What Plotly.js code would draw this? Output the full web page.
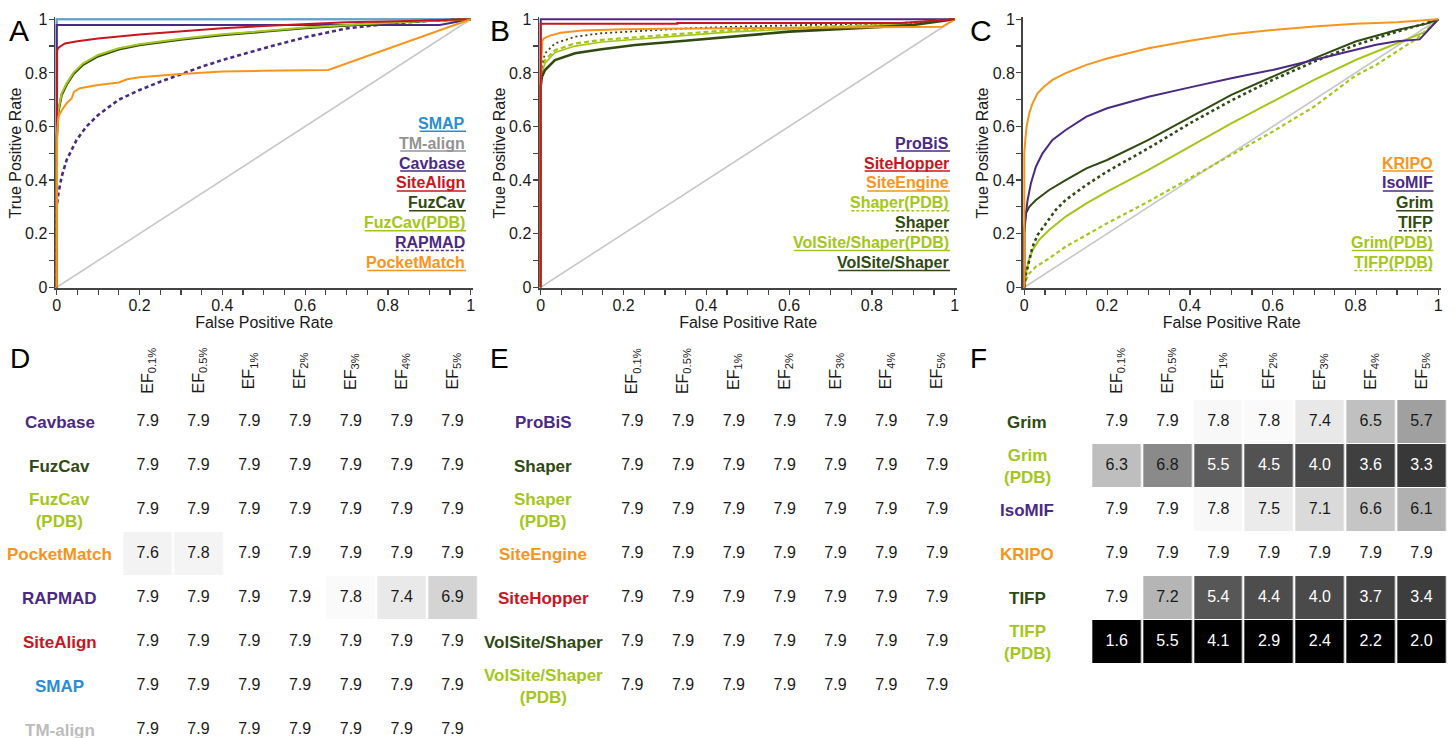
<!DOCTYPE html>
<html><head><meta charset="utf-8">
<script src="https://cdn.plot.ly/plotly-3.0.1.min.js"></script>
<style>html,body{margin:0;padding:0;background:#fff}#chart{width:1456px;height:738px}</style>
</head><body><div id="chart"></div>
<script>
// ---------------- DATA ----------------
// Panel A ROC curves (false positive rate, true positive rate)
const fprTMalign=[0,0,1], tprTMalign=[0,1,1];
const fprSMAP=[0,0,1], tprSMAP=[0,1,1];
const fprCavbase=[0,0,0.925,1], tprCavbase=[0,0.979,0.979,1];
const fprRAPMAD=[0,0,0.004,0.012,0.024,0.048,0.072,0.1,0.15,0.2,0.25,0.3,0.35,0.4,0.5,0.6,0.7,0.8,0.9,1];
const tprRAPMAD=[0,0.30,0.35,0.413,0.475,0.55,0.60,0.643,0.70,0.736,0.767,0.796,0.823,0.848,0.892,0.933,0.966,0.983,0.995,1];
const fprFuzCav=[0,0,0.004,0.012,0.024,0.04,0.064,0.1,0.15,0.2,0.3,0.4,0.5,0.6,0.7,0.8,0.9,1];
const tprFuzCav=[0,0.55,0.655,0.718,0.756,0.795,0.831,0.862,0.888,0.904,0.924,0.941,0.954,0.967,0.977,0.987,0.994,1];
const fprFuzCavPDB=[0,0,0.004,0.012,0.024,0.04,0.064,0.1,0.15,0.2,0.3,0.4,0.5,0.6,0.7,0.8,0.9,1];
const tprFuzCavPDB=[0,0.55,0.66,0.724,0.761,0.80,0.836,0.867,0.892,0.907,0.927,0.944,0.956,0.969,0.979,0.988,0.995,1];
const fprSiteAlign=[0,0,0.001,0.005,0.02,0.05,0.1,0.2,0.3,0.4,0.5,0.6,0.7,0.8,0.9,1];
const tprSiteAlign=[0,0.65,0.885,0.895,0.91,0.918,0.928,0.943,0.955,0.967,0.975,0.983,0.989,0.992,0.996,1];
const fprPocketMatch=[0,0,0.001,0.004,0.012,0.024,0.036,0.042,0.056,0.1,0.15,0.17,0.2,0.3,0.4,0.5,0.656,1];
const tprPocketMatch=[0,0.5,0.575,0.637,0.66,0.687,0.705,0.73,0.743,0.755,0.764,0.776,0.784,0.796,0.805,0.808,0.811,1];

// Panel B
const fprProBiS=[0,0,1], tprProBiS=[0,1,1];
const fprSiteHopper=[0,0,0.33,0.33,0.87,1], tprSiteHopper=[0,0.983,0.983,0.986,0.986,1];
const fprSiteEngine=[0,0,0.004,0.008,0.024,0.048,0.1,0.2,0.3,0.6,0.8,0.97,1];
const tprSiteEngine=[0,0.8,0.92,0.929,0.94,0.95,0.958,0.963,0.965,0.968,0.97,0.972,1];
const fprShaper=[0,0,0.003,0.0104,0.0345,0.083,0.147,0.228,0.349,0.46,0.6,0.8,0.9,1];
const tprShaper=[0,0.78,0.83,0.873,0.910,0.935,0.948,0.956,0.966,0.972,0.977,0.983,0.988,1];
const fprShaperPDB=[0,0,0.003,0.0104,0.0345,0.083,0.147,0.228,0.349,0.46,0.6,0.8,0.9,1];
const tprShaperPDB=[0,0.78,0.81,0.848,0.885,0.910,0.923,0.933,0.948,0.960,0.968,0.978,0.985,1];
const fprVolSiteShaperPDB=[0,0,0.003,0.0104,0.0345,0.083,0.147,0.228,0.349,0.46,0.6,0.8,0.9,1];
const tprVolSiteShaperPDB=[0,0.78,0.80,0.836,0.876,0.900,0.915,0.925,0.940,0.953,0.963,0.976,0.984,1];
const fprVolSiteShaper=[0,0,0.003,0.0104,0.0345,0.083,0.147,0.228,0.349,0.46,0.6,0.8,0.9,1];
const tprVolSiteShaper=[0,0.75,0.786,0.811,0.848,0.873,0.888,0.904,0.920,0.935,0.954,0.970,0.979,1];

// Panel C
const fprKRIPO=[0,0,0.0024,0.0056,0.012,0.02,0.032,0.048,0.068,0.1,0.15,0.2,0.3,0.4,0.5,0.6,0.7,0.8,0.9,1];
const tprKRIPO=[0,0.5,0.55,0.6,0.649,0.687,0.724,0.749,0.774,0.799,0.83,0.854,0.892,0.92,0.944,0.96,0.973,0.983,0.989,1];
const fprIsoMIF=[0,0,0.004,0.008,0.016,0.028,0.044,0.068,0.1,0.15,0.2,0.3,0.4,0.5,0.6,0.7,0.8,0.85,0.9,0.955,1];
const tprIsoMIF=[0,0.22,0.276,0.326,0.388,0.45,0.5,0.55,0.587,0.637,0.668,0.711,0.746,0.78,0.811,0.848,0.884,0.905,0.918,0.925,1];
const fprGrim=[0,0,0.004,0.012,0.028,0.06,0.1,0.15,0.2,0.3,0.4,0.5,0.6,0.7,0.8,0.9,0.97,1];
const tprGrim=[0,0.2,0.276,0.30,0.326,0.363,0.40,0.444,0.475,0.55,0.634,0.718,0.786,0.854,0.917,0.96,0.983,1];
const fprTIFP=[0,0.004,0.012,0.02,0.032,0.052,0.076,0.1,0.15,0.2,0.3,0.4,0.5,0.6,0.7,0.8,0.9,0.97,1];
const tprTIFP=[0,0.05,0.10,0.152,0.195,0.239,0.289,0.326,0.382,0.432,0.519,0.612,0.697,0.774,0.842,0.904,0.954,0.985,1];
const fprGrimPDB=[0,0.004,0.012,0.02,0.036,0.06,0.1,0.15,0.2,0.3,0.4,0.5,0.6,0.7,0.8,0.9,0.97,1];
const tprGrimPDB=[0,0.052,0.108,0.139,0.177,0.214,0.264,0.313,0.357,0.438,0.525,0.612,0.693,0.774,0.848,0.91,0.954,1];
const fprTIFPPDB=[0,0.004,0.012,0.028,0.06,0.1,0.15,0.2,0.3,0.4,0.5,0.6,0.7,0.8,0.85,0.9,0.95,1];
const tprTIFPPDB=[0,0.027,0.052,0.077,0.108,0.152,0.195,0.239,0.32,0.407,0.494,0.581,0.674,0.79,0.83,0.88,0.93,1];

const fprRandom=[0,1], tprRandom=[0,1];

// Enrichment-factor tables
const efLevels=['0.1%','0.5%','1%','2%','3%','4%','5%'];
const rowsD=['Cavbase','FuzCav','FuzCav\n(PDB)','PocketMatch','RAPMAD','SiteAlign','SMAP','TM-align'];
const valsD=[
 [7.9,7.9,7.9,7.9,7.9,7.9,7.9],
 [7.9,7.9,7.9,7.9,7.9,7.9,7.9],
 [7.9,7.9,7.9,7.9,7.9,7.9,7.9],
 [7.6,7.8,7.9,7.9,7.9,7.9,7.9],
 [7.9,7.9,7.9,7.9,7.8,7.4,6.9],
 [7.9,7.9,7.9,7.9,7.9,7.9,7.9],
 [7.9,7.9,7.9,7.9,7.9,7.9,7.9],
 [7.9,7.9,7.9,7.9,7.9,7.9,7.9]];
const rowsE=['ProBiS','Shaper','Shaper\n(PDB)','SiteEngine','SiteHopper','VolSite/Shaper','VolSite/Shaper\n(PDB)'];
const valsE=[
 [7.9,7.9,7.9,7.9,7.9,7.9,7.9],
 [7.9,7.9,7.9,7.9,7.9,7.9,7.9],
 [7.9,7.9,7.9,7.9,7.9,7.9,7.9],
 [7.9,7.9,7.9,7.9,7.9,7.9,7.9],
 [7.9,7.9,7.9,7.9,7.9,7.9,7.9],
 [7.9,7.9,7.9,7.9,7.9,7.9,7.9],
 [7.9,7.9,7.9,7.9,7.9,7.9,7.9]];
const rowsF=['Grim','Grim\n(PDB)','IsoMIF','KRIPO','TIFP','TIFP\n(PDB)'];
const valsF=[
 [7.9,7.9,7.8,7.8,7.4,6.5,5.7],
 [6.3,6.8,5.5,4.5,4.0,3.6,3.3],
 [7.9,7.9,7.8,7.5,7.1,6.6,6.1],
 [7.9,7.9,7.9,7.9,7.9,7.9,7.9],
 [7.9,7.2,5.4,4.4,4.0,3.7,3.4],
 [1.6,5.5,4.1,2.9,2.4,2.2,2.0]];

// ---------------- STYLE ----------------
const W=1456,H=738;
const FONT='"Liberation Sans", Arial, Helvetica, sans-serif';
const PURPLE='#4b2a84', DKGREEN='#2f4a12', LTGREEN='#a4c61a', ORANGE='#f7941d', RED='#c8161e', BLUE='#2a8dd4', GRAYL='#939393', DIAG='#c8c8c8';
const AXC='#444';

const panels=[
 {ax:'', legendRight:466, series:[
   {name:'TM-align', x:fprTMalign, y:tprTMalign, color:'#a8a8a8', lc:GRAYL, w:2, dash:'solid'},
   {name:'SMAP', x:fprSMAP, y:tprSMAP, color:'#5aa2d8', lc:BLUE, w:2, dash:'solid'},
   {name:'Cavbase', x:fprCavbase, y:tprCavbase, color:PURPLE, lc:PURPLE, w:2, dash:'solid'},
   {name:'RAPMAD', x:fprRAPMAD, y:tprRAPMAD, color:PURPLE, lc:PURPLE, w:2.6, dash:'4px,3px'},
   {name:'FuzCav', x:fprFuzCav, y:tprFuzCav, color:DKGREEN, lc:DKGREEN, w:2.4, dash:'solid'},
   {name:'FuzCav(PDB)', x:fprFuzCavPDB, y:tprFuzCavPDB, color:LTGREEN, lc:LTGREEN, w:2, dash:'solid'},
   {name:'SiteAlign', x:fprSiteAlign, y:tprSiteAlign, color:RED, lc:RED, w:2, dash:'solid'},
   {name:'PocketMatch', x:fprPocketMatch, y:tprPocketMatch, color:ORANGE, lc:ORANGE, w:2, dash:'solid'}],
  legendOrder:['SMAP','TM-align','Cavbase','SiteAlign','FuzCav','FuzCav(PDB)','RAPMAD','PocketMatch']},
 {ax:'2', legendRight:950, series:[
   {name:'ProBiS', x:fprProBiS, y:tprProBiS, color:PURPLE, lc:PURPLE, w:2, dash:'solid'},
   {name:'VolSite/Shaper(PDB)', x:fprVolSiteShaperPDB, y:tprVolSiteShaperPDB, color:LTGREEN, lc:LTGREEN, w:1.6, dash:'solid'},
   {name:'Shaper(PDB)', x:fprShaperPDB, y:tprShaperPDB, color:LTGREEN, lc:LTGREEN, w:2.2, dash:'5px,3px'},
   {name:'VolSite/Shaper', x:fprVolSiteShaper, y:tprVolSiteShaper, color:DKGREEN, lc:DKGREEN, w:2.6, dash:'solid'},
   {name:'Shaper', x:fprShaper, y:tprShaper, color:DKGREEN, lc:DKGREEN, w:1.8, dash:'2px,3px'},
   {name:'SiteEngine', x:fprSiteEngine, y:tprSiteEngine, color:ORANGE, lc:ORANGE, w:2, dash:'solid'},
   {name:'SiteHopper', x:fprSiteHopper, y:tprSiteHopper, color:RED, lc:RED, w:2, dash:'solid'}],
  legendOrder:['ProBiS','SiteHopper','SiteEngine','Shaper(PDB)','Shaper','VolSite/Shaper(PDB)','VolSite/Shaper']},
 {ax:'3', legendRight:1433.5, series:[
   {name:'TIFP(PDB)', x:fprTIFPPDB, y:tprTIFPPDB, color:LTGREEN, lc:LTGREEN, w:2.2, dash:'4px,3px'},
   {name:'Grim(PDB)', x:fprGrimPDB, y:tprGrimPDB, color:LTGREEN, lc:LTGREEN, w:2, dash:'solid'},
   {name:'TIFP', x:fprTIFP, y:tprTIFP, color:DKGREEN, lc:DKGREEN, w:2.6, dash:'3px,3px'},
   {name:'Grim', x:fprGrim, y:tprGrim, color:DKGREEN, lc:DKGREEN, w:2, dash:'solid'},
   {name:'IsoMIF', x:fprIsoMIF, y:tprIsoMIF, color:PURPLE, lc:PURPLE, w:2, dash:'solid'},
   {name:'KRIPO', x:fprKRIPO, y:tprKRIPO, color:ORANGE, lc:ORANGE, w:2, dash:'solid'}],
  legendOrder:['KRIPO','IsoMIF','Grim','TIFP','Grim(PDB)','TIFP(PDB)']}
];

const rocX0=[56.7,540.7,1024.3], rocW=414, rocYbot=287.3, rocH=268;
const xr=[-0.004,1.006], yr=[-0.004,1.008];
const letters=[['A',7,31],['B',488,31],['C',968,31]];
const ytitleX=[15.5,499.5,982.5];

const traces=[], annotations=[], shapes=[];
const layout={width:W,height:H,margin:{l:0,r:0,t:0,b:0},showlegend:false,
  paper_bgcolor:'#fff',plot_bgcolor:'#fff',font:{family:FONT,color:'#1a1a1a'}};

const cvs=document.createElement('canvas').getContext('2d');
function textW(t,size,bold){cvs.font=(bold?'bold ':'')+size+'px "Liberation Sans", Arial, sans-serif';return cvs.measureText(t).width;}

panels.forEach((p,i)=>{
  const xa='x'+p.ax, ya='y'+p.ax;
  const x0=rocX0[i];
  layout['xaxis'+p.ax]={domain:[(x0+rocW*xr[0])/W,(x0+rocW*xr[1])/W],range:xr,anchor:ya,
    showline:true,linecolor:AXC,linewidth:1.5,ticks:'outside',ticklen:5,tickwidth:1.2,tickcolor:AXC,
    tick0:0,dtick:0.2,showgrid:false,zeroline:false,tickfont:{size:16,color:'#1a1a1a'},ticklabelstandoff:-3,
    minor:{dtick:0.05,tick0:0,ticks:'outside',ticklen:5,tickwidth:1.2,tickcolor:AXC,showgrid:false},
    title:{text:'False Positive Rate',font:{size:16,color:'#1a1a1a'},standoff:3},fixedrange:true};
  layout['yaxis'+p.ax]={domain:[(H-(rocYbot-rocH*yr[0]))/H,(H-(rocYbot-rocH*yr[1]))/H],range:yr,anchor:xa,
    showline:true,linecolor:AXC,linewidth:1.5,ticks:'outside',ticklen:5,tickwidth:1.2,tickcolor:AXC,
    tick0:0,dtick:0.2,showgrid:false,zeroline:false,tickfont:{size:16,color:'#1a1a1a'},ticklabelstandoff:-2,
    minor:{dtick:0.1,tick0:0,ticks:'outside',ticklen:5,tickwidth:1.2,tickcolor:AXC,showgrid:false},
    fixedrange:true};
  annotations.push({xref:'paper',yref:'paper',x:ytitleX[i]/W,y:(H-153)/H,text:'True Positive Rate',textangle:-90,
    showarrow:false,font:{size:16,color:'#1a1a1a'},xanchor:'center',yanchor:'middle'});
  traces.push({type:'scatter',mode:'lines',x:fprRandom,y:tprRandom,xaxis:xa,yaxis:ya,line:{color:DIAG,width:1.6},hoverinfo:'skip'});
  p.series.forEach(s=>traces.push({type:'scatter',mode:'lines',x:s.x,y:s.y,xaxis:xa,yaxis:ya,name:s.name,
    line:{color:s.color,width:s.w,dash:s.dash},hoverinfo:'skip'}));
  // underline-style legend
  const n=p.legendOrder.length;
  p.legendOrder.forEach((nm,k)=>{
    const s=p.series.find(q=>q.name===nm);
    const cy=262.5-(n-1-k)*19.9;
    annotations.push({xref:'paper',yref:'paper',x:p.legendRight/W,y:(H-cy)/H,xanchor:'right',yanchor:'middle',
      text:'<b>'+nm+'</b>',showarrow:false,borderpad:0,font:{size:16,color:s.lc}});
    const tw=textW(nm,16,true);
    const uy=(H-(cy+8))/H;
    shapes.push({type:'line',xref:'paper',yref:'paper',x0:(p.legendRight-tw)/W,x1:p.legendRight/W,y0:uy,y1:uy,
      line:{color:s.lc,width:1.5,dash:s.dash==='solid'?'solid':'3px,2px'}});
  });
  const L=letters[i];
  annotations.push({xref:'paper',yref:'paper',x:L[1]/W,y:(H-L[2])/H,xanchor:'left',yanchor:'middle',text:L[0],
    showarrow:false,font:{size:30,color:'#000'}});
});

// ---------- tables ----------
const allVals=[valsD,valsE,valsF];
const colMin=efLevels.map((_,c)=>Math.min(...allVals.flatMap(t=>t.map(r=>r[c]))));
const colMax=efLevels.map((_,c)=>Math.max(...allVals.flatMap(t=>t.map(r=>r[c]))));
const tables=[
 {ax:'4',rows:rowsD,vals:valsD,c0:147.7,labelX:59.5,letter:['D',8,358]},
 {ax:'5',rows:rowsE,vals:valsE,c0:632.3,labelX:543,letter:['E',488,358]},
 {ax:'6',rows:rowsF,vals:valsF,c0:1116.7,labelX:1027,letter:['F',968,358]}];
const rowColor={'Cavbase':PURPLE,'FuzCav':DKGREEN,'FuzCav\n(PDB)':LTGREEN,'PocketMatch':ORANGE,'RAPMAD':PURPLE,
 'SiteAlign':RED,'SMAP':BLUE,'TM-align':'#bcbcbc','ProBiS':PURPLE,'Shaper':DKGREEN,'Shaper\n(PDB)':LTGREEN,
 'SiteEngine':ORANGE,'SiteHopper':RED,'VolSite/Shaper':DKGREEN,'VolSite/Shaper\n(PDB)':LTGREEN,
 'Grim':DKGREEN,'Grim\n(PDB)':LTGREEN,'IsoMIF':PURPLE,'KRIPO':ORANGE,'TIFP':DKGREEN,'TIFP\n(PDB)':LTGREEN};
const pitchX=50.8, pitchY=44, tableTop=400;
tables.forEach(t=>{
  const xa='x'+t.ax, ya='y'+t.ax, n=t.rows.length;
  const bottomPx=Math.min(H, tableTop+n*pitchY);
  const yBot=-0.5+(bottomPx-tableTop)/pitchY;
  layout['xaxis'+t.ax]={domain:[(t.c0-pitchX/2)/W,(t.c0+6*pitchX+pitchX/2)/W],range:[-0.5,6.5],anchor:ya,
    showline:false,showticklabels:false,ticks:'',showgrid:false,zeroline:false,fixedrange:true};
  layout['yaxis'+t.ax]={domain:[(H-bottomPx)/H,(H-tableTop)/H],range:[yBot,-0.5],anchor:xa,
    showline:false,showticklabels:false,ticks:'',showgrid:false,zeroline:false,fixedrange:true};
  const z=t.vals.map(r=>r.map((v,c)=>(v-colMin[c])/(colMax[c]-colMin[c])));
  const cols=efLevels.map((_,c)=>c), rws=t.rows.map((_,r)=>r);
  traces.push({type:'heatmap',z:z,x:cols,y:rws,xaxis:xa,yaxis:ya,zmin:0,zmax:1,
    colorscale:[[0,'#000'],[1,'#fff']],showscale:false,xgap:2.4,ygap:1,hoverinfo:'skip'});
  const tx=[],ty=[],tt=[],tc=[];
  t.vals.forEach((r,ri)=>r.forEach((v,c)=>{tx.push(c);ty.push(ri);tt.push(v.toFixed(1));tc.push(z[ri][c]<0.4?'#fff':'#1a1a1a');}));
  traces.push({type:'scatter',mode:'text',x:tx,y:ty,text:tt,xaxis:xa,yaxis:ya,textfont:{size:16,color:tc,family:FONT},
    hoverinfo:'skip',cliponaxis:false});
  efLevels.forEach((e,c)=>annotations.push({xref:xa,yref:'paper',x:c,y:(H-371)/H,text:'EF<sub>'+e+'</sub>',
    textangle:-90,showarrow:false,font:{size:16,color:'#1a1a1a'},xanchor:'center',yanchor:'middle'}));
  t.rows.forEach((r,ri)=>annotations.push({xref:'paper',yref:ya,x:t.labelX/W,y:ri,text:'<b>'+r.replace('\n','<br>')+'</b>',
    showarrow:false,font:{size:17,color:rowColor[r]},xanchor:'center',yanchor:'middle',align:'center'}));
  annotations.push({xref:'paper',yref:'paper',x:t.letter[1]/W,y:(H-t.letter[2])/H,xanchor:'left',yanchor:'middle',
    text:t.letter[0],showarrow:false,font:{size:28,color:'#000'}});
});

layout.annotations=annotations; layout.shapes=shapes;
Plotly.newPlot('chart',traces,layout,{staticPlot:true,displayModeBar:false});
</script></body></html>
